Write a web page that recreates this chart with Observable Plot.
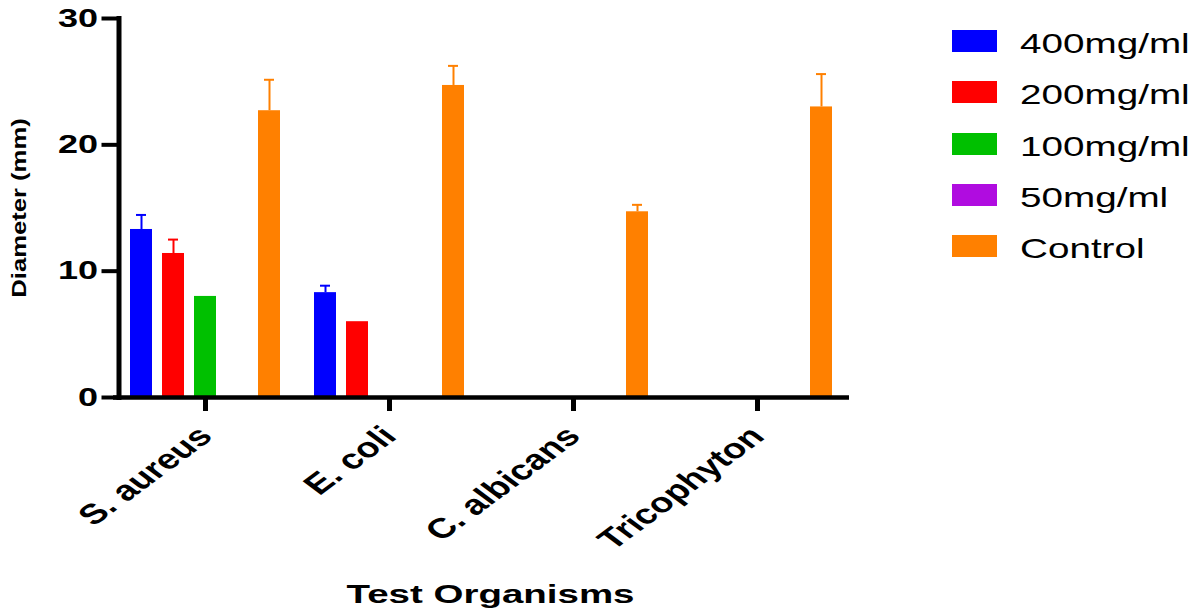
<!DOCTYPE html>
<html>
<head>
<meta charset="utf-8">
<script src="https://cdn.jsdelivr.net/npm/d3@7"></script>
<script src="https://cdn.jsdelivr.net/npm/@observablehq/plot@0.6"></script>
<style>
  html, body { margin: 0; padding: 0; background: #fff; }
  #wrap { position: relative; width: 1201px; height: 613px; font-family: "Liberation Sans", Arial, sans-serif; }
  #legend { position: absolute; left: 952px; top: 30px; }
  .lg-row { position: absolute; left: 0; width: 260px; height: 40px; }
  .lg-sw { position: absolute; left: 0; top: 0; width: 45px; height: 22px; }
  .lg-tx { position: absolute; left: 68px; top: 0px; font-size: 28px; line-height: 28px; color: #000; white-space: nowrap; transform: scaleX(1.38); transform-origin: left center; }
</style>
</head>
<body>
<div id="wrap"><div id="legend"></div></div>
<script>
// ---- data ----
const organisms = ["S. aureus", "E. coli", "C. albicans", "Tricophyton"];
const concentrations = ["400mg/ml", "200mg/ml", "100mg/ml", "50mg/ml", "Control"];
const colors = ["#0000FF", "#FF0000", "#00C000", "#B00CE0", "#FF8000"];
// mean inhibition zone diameter (mm), one value per organism
const mean400 = [13.3, 8.3, 0, 0];
const mean200 = [11.4, 6.0, 0, 0];
const mean100 = [8.0, 0, 0, 0];
const mean50 = [0, 0, 0, 0];
const meanControl = [22.7, 24.7, 14.7, 23.0];
// standard deviations (error bars)
const sd400 = [1.15, 0.55, 0, 0];
const sd200 = [1.1, 0, 0, 0];
const sd100 = [0, 0, 0, 0];
const sd50 = [0, 0, 0, 0];
const sdControl = [2.45, 1.55, 0.55, 2.6];
const yTicks = [0, 10, 20, 30];

const means = [mean400, mean200, mean100, mean50, meanControl];
const sds = [sd400, sd200, sd100, sd50, sdControl];
const rows = [];
organisms.forEach((org, i) => concentrations.forEach((c, j) => {
  rows.push({organism: org, concentration: c, value: means[j][i], sd: sds[j][i]});
}));
const bars = rows.filter(d => d.value > 0);
const errs = rows.filter(d => d.sd > 0);

const chart = Plot.plot({
  width: 1201,
  height: 613,
  marginTop: 18,
  marginBottom: 216,
  marginLeft: 112,
  marginRight: 351,
  style: {fontFamily: "'Liberation Sans', Arial, sans-serif", color: "#000", background: "#fff"},
  fx: {domain: organisms, padding: 0, label: "Test Organisms"},
  x: {domain: concentrations, paddingInner: 0.309, paddingOuter: 0.476, axis: null},
  y: {domain: [0, 30], label: "Diameter (mm)"},
  color: {domain: concentrations, range: colors},
  marks: [
    Plot.barY(bars, {fx: "organism", x: "concentration", y: "value", fill: "concentration"}),
    Plot.ruleX(errs, {fx: "organism", x: "concentration", y1: "value", y2: d => d.value + d.sd, stroke: "concentration", strokeWidth: 2}),
    Plot.tickY(errs, {fx: "organism", x: "concentration", y: d => d.value + d.sd, stroke: "concentration", strokeWidth: 2, insetLeft: 6, insetRight: 6}),
    Plot.ruleY([0], {stroke: "#000", strokeWidth: 4.5}),
    Plot.frame({anchor: "left", facetAnchor: "left", stroke: "#000", strokeWidth: 5, dx: 5.5}),
    Plot.axisY({ticks: yTicks, tickSize: 17, tickPadding: 4, strokeWidth: 4, dx: 5.5, fontSize: 25, fontWeight: "bold", label: null}),
    Plot.axisY({ticks: [], label: "Diameter (mm)", labelAnchor: "center", labelArrow: "none", labelOffset: 102, fontSize: 21, fontWeight: "bold"}),
    Plot.axisFx({anchor: "bottom", tickSize: 14, tickPadding: 20, strokeWidth: 5, tickRotate: -45, fontSize: 28, fontWeight: "bold", label: null}),
    Plot.axisFx({anchor: "bottom", ticks: [], label: "Test Organisms", labelAnchor: "center", labelArrow: "none", labelOffset: 205, fontSize: 26, fontWeight: "bold"})
  ]
});

const wrap = document.getElementById("wrap");
wrap.insertBefore(chart, wrap.firstChild);
chart.style.position = "absolute";
chart.style.left = "0";
chart.style.top = "0";

// horizontal stretch of the original's lettering
function stretch(sel, factor, shiftX = 0) {
  chart.querySelectorAll(sel).forEach(t => {
    const len = t.getComputedTextLength();
    if (len > 0) {
      t.setAttribute("textLength", len * factor);
      t.setAttribute("lengthAdjust", "spacingAndGlyphs");
    }
    if (shiftX) t.setAttribute("transform", `translate(${shiftX},0) ` + (t.getAttribute("transform") || ""));
  });
}
stretch('g[aria-label="y-axis tick label"] text', 1.44);
stretch('g[aria-label="y-axis label"] text', 1.22);
stretch('g[aria-label="fx-axis label"] text', 1.48, 9);
// the original's rotated labels are widened horizontally in screen space
chart.querySelectorAll('g[aria-label="fx-axis tick label"] text').forEach(t => {
  const tr = t.getAttribute("transform") || "";
  if (tr.includes("rotate(")) t.setAttribute("transform", tr.replace("rotate(", "scale(1.35,1) rotate("));
});

// legend
const legend = document.getElementById("legend");
concentrations.forEach((c, i) => {
  const row = document.createElement("div");
  row.className = "lg-row";
  row.style.top = (i * 51.3) + "px";
  const sw = document.createElement("span");
  sw.className = "lg-sw";
  sw.style.background = colors[i];
  const tx = document.createElement("span");
  tx.className = "lg-tx";
  tx.textContent = c;
  row.appendChild(sw);
  row.appendChild(tx);
  legend.appendChild(row);
});
</script>
</body>
</html>
